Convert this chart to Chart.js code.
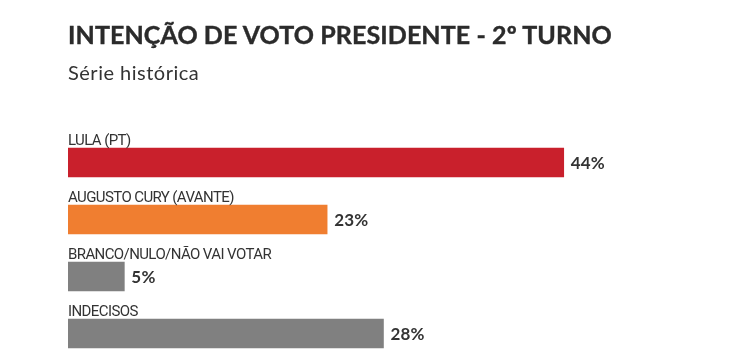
<!DOCTYPE html>
<html>
<head>
<meta charset="utf-8">
<script src="https://cdn.jsdelivr.net/npm/chart.js@4"></script>
<style>
  html, body { margin: 0; padding: 0; background: #fff; overflow: hidden; }
  #wrap { position: relative; width: 751px; height: 354px; overflow: hidden; }
  #title { position: absolute; left: 68px; top: 19px; font: bold 25px Lato, sans-serif; letter-spacing: 0.1px; color: #2b2b2b; white-space: nowrap; -webkit-text-stroke: 0.4px #2b2b2b; }
  #subtitle { position: absolute; left: 68px; top: 60px; font: 20px Lato, sans-serif; letter-spacing: 0.5px; color: #333; white-space: nowrap; }
  canvas { position: absolute; left: 0; top: 0; }
</style>
</head>
<body>
<div id="wrap">
  <canvas id="chart" width="751" height="380"></canvas>
  <div id="title">INTENÇÃO DE VOTO PRESIDENTE - 2º TURNO</div>
  <div id="subtitle">Série histórica</div>
</div>
<script>
const categories = ['LULA (PT)', 'AUGUSTO CURY (AVANTE)', 'BRANCO/NULO/NÃO VAI VOTAR', 'INDECISOS'];
const values = [44, 23, 5, 28];
const barColors = ['#c9202c', '#f07e30', '#808080', '#808080'];

// category name above each bar, value to the right
const barLabels = {
    id: 'barLabels',
    afterDatasetsDraw(chart) {
        const ctx = chart.ctx;
        const meta = chart.getDatasetMeta(0);
        ctx.save();
        meta.data.forEach((bar, i) => {
            const top = bar.y - bar.height / 2;
            ctx.font = '15px Roboto, sans-serif';
            ctx.letterSpacing = '-0.6px';
            ctx.fillStyle = '#333';
            ctx.textAlign = 'left';
            ctx.textBaseline = 'alphabetic';
            ctx.fillText(categories[i], chart.chartArea.left, top - 3);
            ctx.font = 'bold 17px Lato, sans-serif';
            ctx.letterSpacing = '0.2px';
            ctx.textBaseline = 'middle';
            ctx.fillText(values[i] + '%', bar.x + 7, bar.y + 1);
        });
        ctx.restore();
    }
};

new Chart(document.getElementById('chart'), {
    type: 'bar',
    data: {
        labels: categories,
        datasets: [{
            data: values,
            backgroundColor: barColors,
            borderWidth: 0,
            barThickness: 29
        }]
    },
    options: {
        indexAxis: 'y',
        responsive: false,
        animation: false,
        layout: { padding: { left: 68, right: 7, top: 134, bottom: 18 } },
        plugins: { legend: { display: false }, tooltip: { enabled: false } },
        scales: {
            x: { min: 0, max: 60, display: false },
            y: { display: false }
        }
    },
    plugins: [barLabels]
});
</script>
</body>
</html>
